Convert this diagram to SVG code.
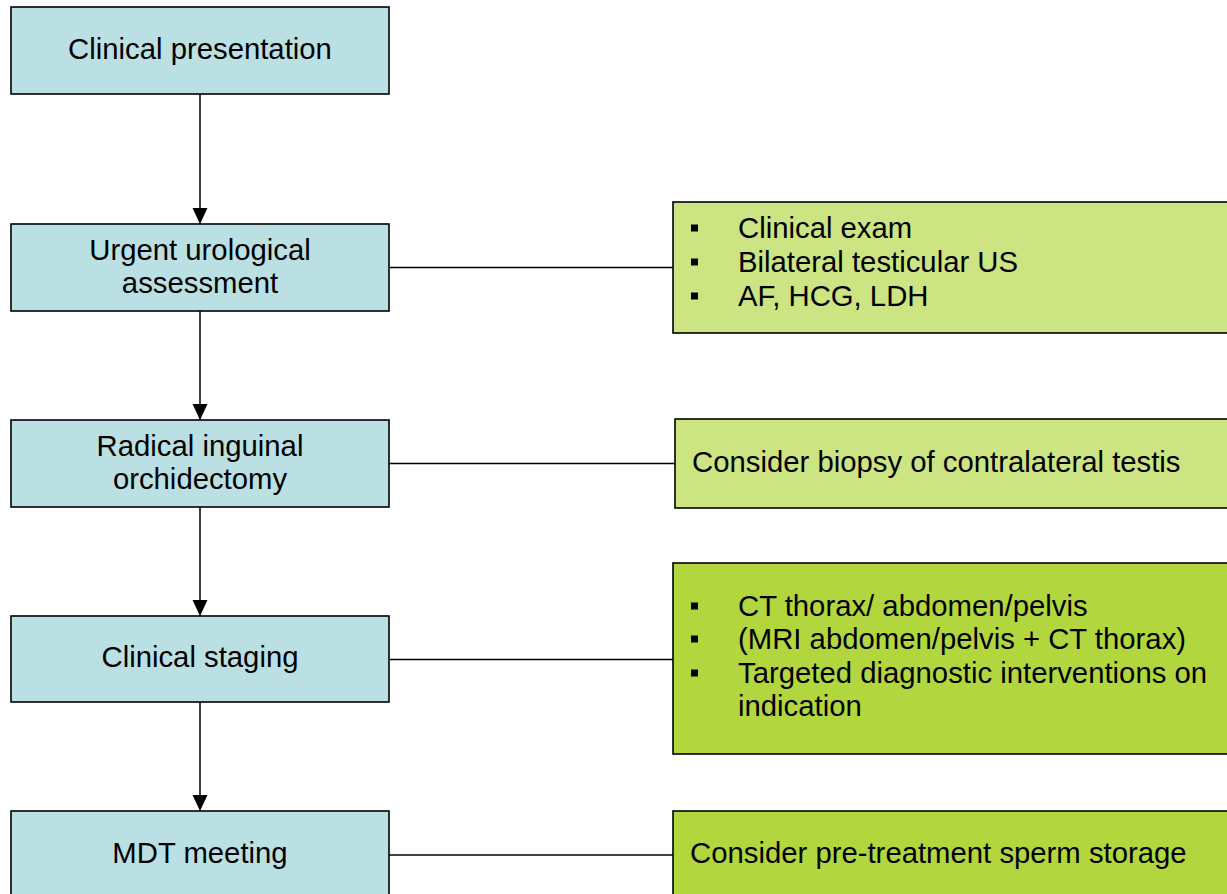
<svg xmlns="http://www.w3.org/2000/svg" width="1227" height="894" viewBox="0 0 1227 894">
<style>
  .step { fill: #BAE0E4; stroke: #000; stroke-width: 1.6; }
  .note1 { fill: #CDE482; stroke: #000; stroke-width: 1.6; }
  .note2 { fill: #B2D73E; stroke: #000; stroke-width: 1.6; }
  .t { font-family: "Liberation Sans", Arial, sans-serif; font-size: 29.3px; fill: #000; }
  .c { text-anchor: middle; }
  .conn { stroke: #000; stroke-width: 1.5; fill: none; }
  .bul { fill: #000; }
</style>
<defs>
  <marker id="arr" markerUnits="userSpaceOnUse" markerWidth="16" markerHeight="16" refX="16" refY="7.5" orient="auto">
    <path d="M0,0 L16,7.5 L0,15 z" fill="#000"/>
  </marker>
</defs>
<rect width="1227" height="894" fill="#fff"/>
<g id="connectors">
  <line class="conn" x1="200" y1="94" x2="200" y2="224" marker-end="url(#arr)"/>
  <line class="conn" x1="200" y1="311" x2="200" y2="420" marker-end="url(#arr)"/>
  <line class="conn" x1="200" y1="507" x2="200" y2="616" marker-end="url(#arr)"/>
  <line class="conn" x1="200" y1="702" x2="200" y2="811" marker-end="url(#arr)"/>
  <line class="conn" x1="389" y1="267.5" x2="673" y2="267.5"/>
  <line class="conn" x1="389" y1="463.5" x2="675" y2="463.5"/>
  <line class="conn" x1="389" y1="659.5" x2="673" y2="659.5"/>
  <line class="conn" x1="389" y1="855" x2="673" y2="855"/>
</g>
<g id="n1">
  <rect class="step" x="11" y="7" width="378" height="87"/>
  <text class="t c" x="200" y="59">Clinical presentation</text>
</g>
<g id="n2">
  <rect class="step" x="11" y="224" width="378" height="87"/>
  <text class="t c" x="200" y="260">Urgent urological</text>
  <text class="t c" x="200" y="293">assessment</text>
</g>
<g id="n3">
  <rect class="step" x="11" y="420" width="378" height="87"/>
  <text class="t c" x="200" y="456">Radical inguinal</text>
  <text class="t c" x="200" y="489">orchidectomy</text>
</g>
<g id="n4">
  <rect class="step" x="11" y="616" width="378" height="86"/>
  <text class="t c" x="200" y="667">Clinical staging</text>
</g>
<g id="n5">
  <rect class="step" x="11" y="811" width="378" height="100"/>
  <text class="t c" x="200" y="863">MDT meeting</text>
</g>
<g id="r1">
  <rect class="note1" x="673" y="202" width="570" height="131"/>
  <rect class="bul" x="691" y="224.5" width="7" height="7"/>
  <rect class="bul" x="691" y="258.5" width="7" height="7"/>
  <rect class="bul" x="691" y="292.5" width="7" height="7"/>
  <text class="t" x="738" y="238">Clinical exam</text>
  <text class="t" x="738" y="272">Bilateral testicular US</text>
  <text class="t" x="738" y="306">AF, HCG, LDH</text>
</g>
<g id="r2">
  <rect class="note1" x="675" y="419" width="570" height="89"/>
  <text class="t" x="692" y="472">Consider biopsy of contralateral testis</text>
</g>
<g id="r3">
  <rect class="note2" x="673" y="563" width="570" height="191"/>
  <rect class="bul" x="691" y="602.5" width="7" height="7"/>
  <rect class="bul" x="691" y="635.5" width="7" height="7"/>
  <rect class="bul" x="691" y="669.5" width="7" height="7"/>
  <text class="t" x="738" y="616">CT thorax/ abdomen/pelvis</text>
  <text class="t" x="738" y="649">(MRI abdomen/pelvis + CT thorax)</text>
  <text class="t" x="738" y="683">Targeted diagnostic interventions on</text>
  <text class="t" x="738" y="716">indication</text>
</g>
<g id="r4">
  <rect class="note2" x="673" y="811" width="570" height="100"/>
  <text class="t" x="690" y="863">Consider pre-treatment sperm storage</text>
</g>
</svg>
